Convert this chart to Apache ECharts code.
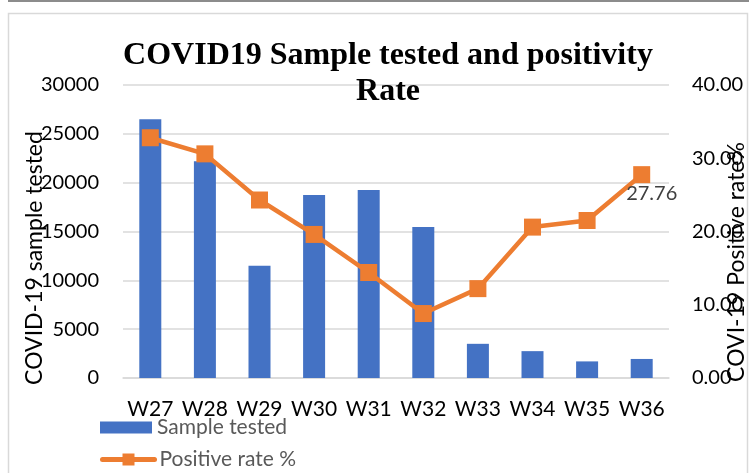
<!DOCTYPE html>
<html>
<head>
<meta charset="utf-8">
<script src="https://cdn.jsdelivr.net/npm/echarts@6/dist/echarts.min.js"></script>
<style>
html,body{margin:0;padding:0;background:#fff;}
#c{width:749px;height:473px;}
</style>
</head>
<body>
<div id="c"></div>
<script>
const weeks = ['W27','W28','W29','W30','W31','W32','W33','W34','W35','W36'];
const sampleTested = [26500, 22200, 11500, 18750, 19250, 15450, 3500, 2750, 1700, 1950];
const positiveRate = [32.8, 30.6, 24.3, 19.6, 14.4, 8.8, 12.2, 20.6, 21.5, 27.76];
const leftTicks = {min: 0, max: 30000, interval: 5000};
const rightTicks = {min: 0, max: 40, interval: 10};

const chart = echarts.init(document.getElementById('c'), null, {renderer: 'canvas'});
const lastIdx = positiveRate.length - 1;
const font = 'Lato';
const legendBase = {
  orient: 'vertical',
  left: 100,
  itemWidth: 52,
  itemHeight: 12,
  padding: 0,
  textStyle: {fontFamily: font, fontSize: 21, color: '#595959'}
};

chart.setOption({
  animation: false,
  backgroundColor: '#ffffff',
  title: {
    text: 'COVID19 Sample tested and positivity\nRate',
    left: 383,
    top: 33,
    textAlign: 'center',
    textStyle: {
      fontFamily: '"Liberation Serif", "Times New Roman", serif',
      fontWeight: 'bold',
      fontSize: 32,
      lineHeight: 36,
      color: '#000'
    }
  },
  graphic: [
    {type: 'line', shape: {x1: 8, y1: 1, x2: 749, y2: 1}, style: {stroke: '#8c8c8c', lineWidth: 2}, silent: true},
    {type: 'rect', shape: {x: 8.5, y: 13.5, width: 739, height: 480}, style: {fill: 'none', stroke: '#d9d9d9', lineWidth: 1.5}, silent: true},
    {type: 'text', x: 35, y: 258, rotation: Math.PI / 2,
      style: {text: 'COVID-19 sample tested', font: '23px Lato', fill: '#000', textAlign: 'center', textVerticalAlign: 'middle'}, z: 10},
    {type: 'text', x: 737, y: 262, rotation: Math.PI / 2,
      style: {text: 'COVI-19 Positive rate%', font: '23px Lato', fill: '#000', textAlign: 'center', textVerticalAlign: 'middle'}, z: 10}
  ],
  legend: [
    Object.assign({}, legendBase, {top: 417, data: [{name: 'Sample tested', icon: 'rect'}]}),
    Object.assign({}, legendBase, {top: 449, data: [{name: 'Positive rate %'}],
      lineStyle: {width: 5, cap: 'round'}, itemHeight: 15})
  ],
  grid: {left: 123, right: 80, top: 85, bottom: 95, containLabel: false},
  xAxis: {
    type: 'category',
    data: weeks,
    axisLine: {lineStyle: {color: '#d9d9d9', width: 1.5}},
    axisTick: {show: false},
    axisLabel: {fontFamily: font, fontSize: 21, color: '#000', margin: 21, interval: 0}
  },
  yAxis: [
    {
      type: 'value',
      min: leftTicks.min, max: leftTicks.max, interval: leftTicks.interval,
      axisLine: {show: false},
      axisTick: {show: false},
      axisLabel: {fontFamily: font, fontSize: 20, color: '#000', margin: 24,
        formatter: v => String(v)},
      splitLine: {lineStyle: {color: '#d9d9d9', width: 1.5}}
    },
    {
      type: 'value',
      min: rightTicks.min, max: rightTicks.max, interval: rightTicks.interval,
      axisLine: {show: false},
      axisTick: {show: false},
      axisLabel: {fontFamily: font, fontSize: 20, color: '#000', margin: 23,
        formatter: v => v.toFixed(2)},
      splitLine: {show: false}
    }
  ],
  series: [
    {
      name: 'Sample tested',
      type: 'bar',
      data: sampleTested,
      barWidth: 22,
      itemStyle: {color: '#4472C4'},
      yAxisIndex: 0
    },
    {
      name: 'Positive rate %',
      type: 'line',
      yAxisIndex: 1,
      data: positiveRate.map((v, i) => i === lastIdx
        ? {value: v, label: {show: true, position: 'bottom', distance: 0, offset: [10, 0],
            formatter: p => p.value.toFixed(2), fontFamily: font, fontSize: 20, color: '#404040'}}
        : v),
      symbol: 'rect',
      symbolSize: 17,
      lineStyle: {color: '#ED7D31', width: 4.5, cap: 'round'},
      itemStyle: {color: '#ED7D31'},
      z: 5
    }
  ]
});
</script>
</body>
</html>
